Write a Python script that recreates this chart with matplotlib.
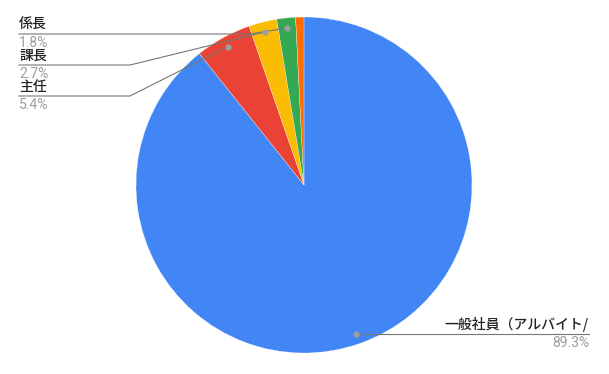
import numpy as np
import matplotlib
matplotlib.use("Agg")
import matplotlib.pyplot as plt

plt.rcParams['font.family'] = ['Noto Sans CJK JP', 'DejaVu Sans']

# slice data, clockwise from 12 o'clock
labels = ["一般社員（アルバイト/", "主任", "課長", "係長", ""]
values = [89.3, 5.4, 2.7, 1.8, 0.8]
colors = ["#4285F4", "#EA4335", "#FBBC04", "#34A853", "#FF6D01"]

W, H = 609, 374
fig = plt.figure(figsize=(W / 100, H / 100), dpi=100)
ax = fig.add_axes([0, 0, 1, 1])

cx, cy, r = 304, H - 185, 168
wedges, _ = ax.pie(values, colors=colors, startangle=90, counterclock=False,
                   center=(cx, cy), radius=r, frame=True,
                   wedgeprops=dict(edgecolor="white", linewidth=0.2))
ax.set_xlim(0, W)
ax.set_ylim(0, H)
ax.set_aspect("equal")
ax.axis("off")


def dot_of(w):
    mid = np.deg2rad((w.theta1 + w.theta2) / 2)
    return cx + 0.94 * r * np.cos(mid), cy + 0.94 * r * np.sin(mid)


line_kw = dict(color="#777777", lw=0.8, zorder=3)
lab_kw = dict(fontsize=10, color="#222222", weight="medium")
pct_kw = dict(fontsize=10, color="#9e9e9e", family=["Roboto", "DejaVu Sans"])

# left side labels: (slice index, line y from top, bend x)
left = [(3, 34, 250), (2, 65, 130), (1, 96, 130)]
for i, ytop, xbend in left:
    dx, dy = dot_of(wedges[i])
    y = H - ytop
    ax.plot([19, xbend, dx], [y, y, dy], **line_kw)
    ax.plot(dx, dy, "o", ms=3.5, color="#9e9e9e", zorder=4)
    ax.text(19, y + 2, labels[i], ha="left", va="bottom", **lab_kw)
    ax.text(19, y - 2, f"{values[i]}%", ha="left", va="top", **pct_kw)

# right side label for the big slice
dx, dy = dot_of(wedges[0])
ax.plot([dx, 589], [dy, dy], **line_kw)
ax.plot(dx, dy, "o", ms=3.5, color="#9e9e9e", zorder=4)
ax.text(589, dy + 2, labels[0], ha="right", va="bottom", **lab_kw)
ax.text(589, dy - 2, f"{values[0]}%", ha="right", va="top", **pct_kw)

fig.savefig("out.png", dpi=100)
